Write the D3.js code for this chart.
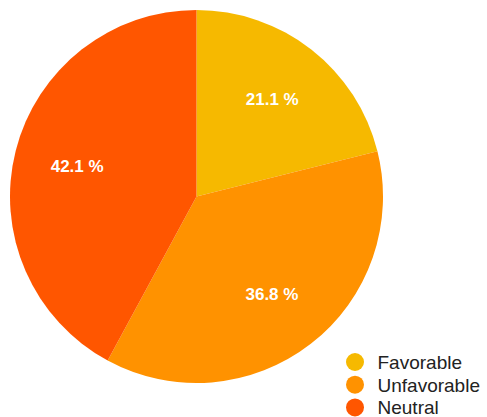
<!DOCTYPE html>
<html>
<head>
<meta charset="utf-8">
<script src="https://cdn.jsdelivr.net/npm/d3@7"></script>
<style>
  html, body { margin: 0; padding: 0; background: #fff; }
  svg { display: block; }
</style>
</head>
<body>
<svg id="chart" width="487" height="417"></svg>
<script>
// Survey response shares (percent)
const categories = ["Favorable", "Unfavorable", "Neutral"];
const values = [21.1, 36.8, 42.1];
const colors = ["#F6B900", "#FF9200", "#FF5600"];

const svg = d3.select("#chart");
const cx = 196.5, cy = 196.5, radius = 186.5;

const pie = d3.pie().sort(null).value(d => d.value);
const arcs = pie(categories.map((c, i) => ({ name: c, value: values[i], color: colors[i] })));

const arc = d3.arc().innerRadius(0).outerRadius(radius);
const labelArc = d3.arc().innerRadius(radius * 0.66).outerRadius(radius * 0.66);

const g = svg.append("g").attr("transform", `translate(${cx},${cy})`);

g.selectAll("path.slice")
  .data(arcs)
  .join("path")
  .attr("class", "slice")
  .attr("d", arc)
  .attr("fill", d => d.data.color);

g.selectAll("text.pct")
  .data(arcs)
  .join("text")
  .attr("class", "pct")
  .attr("transform", d => `translate(${labelArc.centroid(d)})`)
  .attr("text-anchor", "middle")
  .attr("dy", "0.35em")
  .attr("fill", "#fff")
  .attr("font-family", "Liberation Sans, Arial, Helvetica, sans-serif")
  .attr("font-size", 17)
  .attr("font-weight", "bold")
  .text(d => d.data.value.toFixed(1) + " %");

// Legend
const legend = svg.append("g").attr("transform", "translate(355,362)");
const item = legend.selectAll("g.item")
  .data(categories)
  .join("g")
  .attr("class", "item")
  .attr("transform", (d, i) => `translate(0,${i * 22.7})`);

item.append("circle")
  .attr("r", 9)
  .attr("fill", (d, i) => colors[i]);

item.append("text")
  .attr("x", 22.5)
  .attr("dy", "0.36em")
  .attr("fill", "#222")
  .attr("font-family", "Liberation Sans, Arial, Helvetica, sans-serif")
  .attr("font-size", 19)
  .text(d => d);
</script>
</body>
</html>
